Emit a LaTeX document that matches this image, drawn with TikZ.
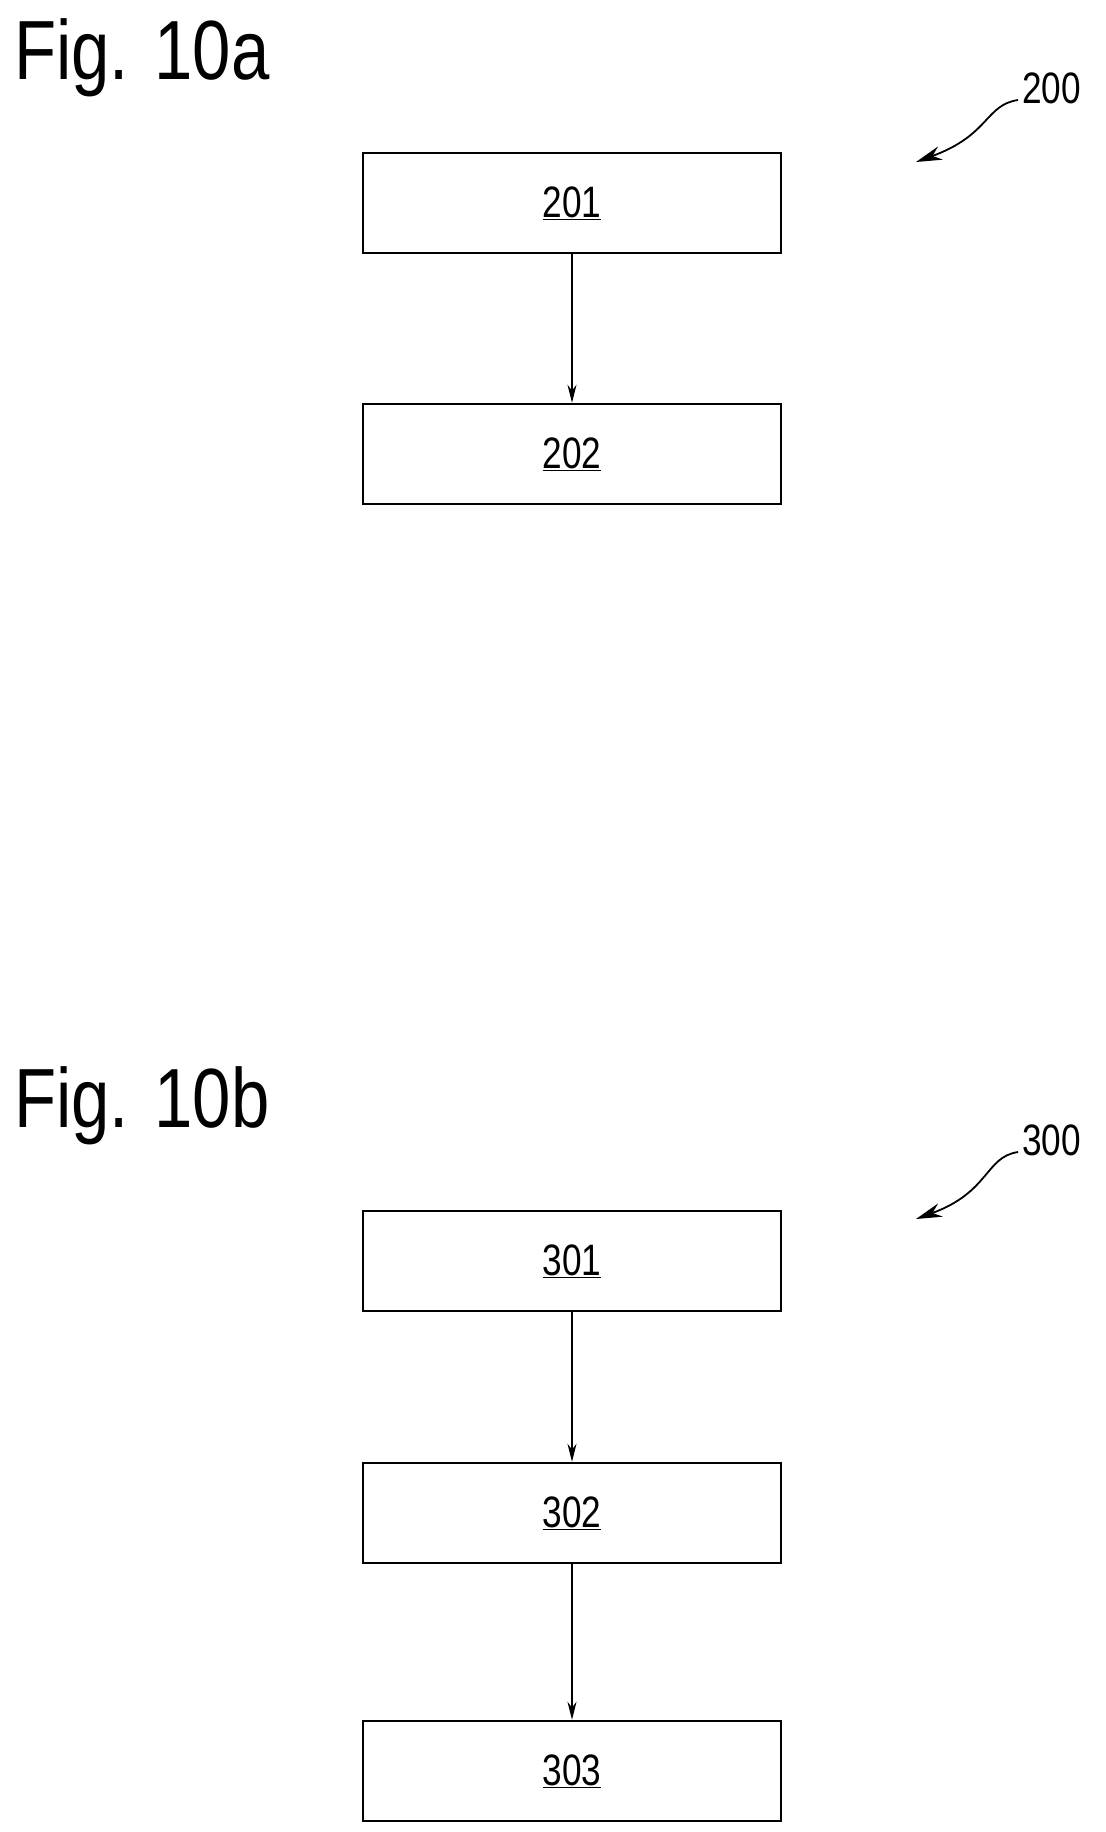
\documentclass[tikz,border=0pt]{standalone}
\usepackage{fontspec}
\setmainfont{Liberation Sans}
\usetikzlibrary{arrows.meta}
\begin{document}
\begin{tikzpicture}[x=1pt,y=-1pt,
  box/.style={draw,line width=2.5pt,minimum width=418pt,minimum height=100pt,inner sep=0pt,font=\fontsize{44}{44}\selectfont},
  ref/.style={font=\fontsize{44}{44}\selectfont},
  arr/.style={line width=1.8pt,-{Stealth[length=18pt,width=9pt]}},
  lead/.style={line width=1.8pt,-{Stealth[length=26pt,width=14pt]}}]
\useasboundingbox (0,0) rectangle (1106,1832);
\node[anchor=north west,inner sep=0pt,font=\fontsize{84}{84}\selectfont] (fa) at (14,18) {\scalebox{0.82}[1]{Fig. 10a}};
\node[anchor=north west,inner sep=0pt,font=\fontsize{84}{84}\selectfont] (fb) at (14,1066) {\scalebox{0.82}[1]{Fig. 10b}};
\node[box] (b201) at (572,203) {\scalebox{0.8}[1]{\underline{201}}};
\node[box] (b202) at (572,454) {\scalebox{0.8}[1]{\underline{202}}};
\node[box] (b301) at (572,1261) {\scalebox{0.8}[1]{\underline{301}}};
\node[box] (b302) at (572,1513) {\scalebox{0.8}[1]{\underline{302}}};
\node[box] (b303) at (572,1771) {\scalebox{0.8}[1]{\underline{303}}};
\draw[arr] (b201) -- (b202);
\draw[arr] (b301) -- (b302);
\draw[arr] (b302) -- (b303);
\node[ref,anchor=west,inner sep=0pt] (r200) at (1022,88) {\scalebox{0.8}[1]{200}};
\node[ref,anchor=west,inner sep=0pt] (r300) at (1022,1140) {\scalebox{0.8}[1]{300}};
\coordinate (t200) at (916,162);
\coordinate (t300) at (916,1219);
\draw[lead] (r200.west) ++(-4,12) .. controls (985,105) and (990,135) .. (t200);
\draw[lead] (r300.west) ++(-4,12) .. controls (985,1157) and (990,1192) .. (t300);
\end{tikzpicture}
\end{document}
